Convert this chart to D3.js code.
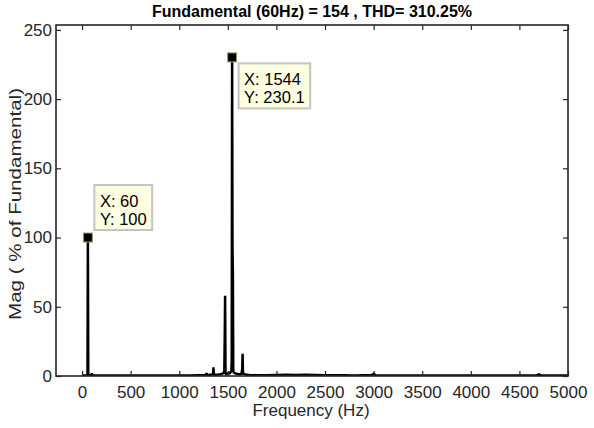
<!DOCTYPE html>
<html><head><meta charset="utf-8">
<script src="https://cdn.jsdelivr.net/npm/d3@7"></script>
<style>
body{margin:0;background:#fff}
svg text{font-family:Arial,"Liberation Sans",Helvetica,sans-serif}
</style>
</head><body>
<svg id="chart" width="594" height="428"></svg>
<script>
// ---- data ----
const titleText = "Fundamental (60Hz) = 154 , THD= 310.25%";
const xLabelText = "Frequency (Hz)";
const yLabelText = "Mag ( % of Fundamental)";
const xTickValues = [0, 500, 1000, 1500, 2000, 2500, 3000, 3500, 4000, 4500, 5000];
const yTickValues = [0, 50, 100, 150, 200, 250];
const xLimits = [-268, 5000];
const yLimits = [0, 253.5];

// spectrum (Hz, % of fundamental)
const freqHz = [0, 20, 40, 56, 60, 64, 80, 96, 100, 104, 120, 200, 300, 400, 500, 600, 700, 800, 900, 1000,
  1100, 1200, 1240, 1276, 1280, 1284, 1288, 1320, 1344, 1348, 1352, 1356, 1380, 1420, 1440, 1460, 1464, 1468, 1472, 1476,
  1480, 1500, 1520, 1536, 1540, 1544, 1548, 1552, 1556, 1560, 1580, 1600, 1620, 1640, 1648, 1652, 1656, 1680, 1720, 1800,
  1900, 2000, 2100, 2200, 2300, 2400, 2500, 2600, 2700, 2800, 2900, 2980, 3000, 3020, 3100, 3200, 3400, 3600, 3800, 4000,
  4200, 4400, 4600, 4680, 4700, 4720, 4800, 5000];
const magPct = [0.8, 0.4, 0.3, 0.6, 100, 0.6, 0.5, 0.6, 2.0, 0.5, 0.4, 0.3, 0.3, 0.3, 0.4, 0.3, 0.3, 0.4, 0.3, 0.4,
  0.4, 0.5, 0.6, 0.8, 2.2, 0.8, 0.6, 0.9, 1.0, 2.0, 6.3, 1.2, 0.8, 1.2, 1.5, 2.5, 4.0, 27, 58, 3.0,
  1.5, 1.8, 2.0, 3.5, 10, 230.1, 93, 73, 4.5, 2.5, 1.8, 1.5, 1.2, 1.5, 5.0, 16, 2.0, 1.0, 0.7, 0.6,
  0.5, 0.7, 0.9, 0.8, 0.9, 0.7, 0.6, 0.5, 0.5, 0.4, 0.5, 0.6, 1.6, 0.6, 0.4, 0.4, 0.3, 0.3, 0.3, 0.3,
  0.3, 0.3, 0.3, 0.4, 1.2, 0.4, 0.3, 0.3];

const dataTips = [{f: 60, m: 100, place: "above"}, {f: 1544, m: 230.1, place: "below"}];

// ---- layout ----
const W = 594, H = 428;
const plot = {left: 56, right: 568, top: 25, bottom: 376};
const axisColor = "#262626";
const svg = d3.select("#chart");
svg.append("rect").attr("width", W).attr("height", H).attr("fill", "#fff");

const x = d3.scaleLinear().domain(xLimits).range([plot.left, plot.right]);
const y = d3.scaleLinear().domain(yLimits).range([plot.bottom, plot.top]);

svg.append("rect").attr("x", plot.left).attr("y", plot.top)
  .attr("width", plot.right - plot.left).attr("height", plot.bottom - plot.top).attr("fill", "#fff");

// spectrum line
const pts = freqHz.map((f, i) => [f, magPct[i]]);
svg.append("clipPath").attr("id", "clipP").append("rect")
  .attr("x", plot.left).attr("y", plot.top).attr("width", plot.right - plot.left).attr("height", plot.bottom - plot.top);
svg.append("path").datum(pts)
  .attr("clip-path", "url(#clipP)")
  .attr("fill", "none").attr("stroke", "#000").attr("stroke-width", 2.5).attr("stroke-linejoin", "miter")
  .attr("d", d3.line().x(d => x(d[0])).y(d => y(d[1])));

// axes with inner ticks
const tickLen = 5;
const fontTick = 17;
const gB = svg.append("g").attr("transform", `translate(0,${plot.bottom})`)
  .call(d3.axisBottom(x).tickValues(xTickValues).tickSize(-tickLen).tickPadding(10).tickFormat(d3.format("d")));
const gT = svg.append("g").attr("transform", `translate(0,${plot.top})`)
  .call(d3.axisTop(x).tickValues(xTickValues).tickSize(-tickLen).tickFormat(""));
const gL = svg.append("g").attr("transform", `translate(${plot.left},0)`)
  .call(d3.axisLeft(y).tickValues(yTickValues).tickSize(-tickLen).tickPadding(4).tickFormat(d3.format("d")));
const gR = svg.append("g").attr("transform", `translate(${plot.right},0)`)
  .call(d3.axisRight(y).tickValues(yTickValues).tickSize(-tickLen).tickFormat(""));
[gB, gT, gL, gR].forEach(g => {
  g.select(".domain").remove();
  g.selectAll(".tick line").attr("stroke", axisColor).attr("stroke-width", 1.2);
  g.selectAll(".tick text").attr("fill", axisColor).attr("font-size", fontTick)
    .attr("font-family", "Arial, 'Liberation Sans', sans-serif");
});
gB.selectAll(".tick text").attr("dy", "0.71em");
svg.append("rect").attr("x", plot.left).attr("y", plot.top)
  .attr("width", plot.right - plot.left).attr("height", plot.bottom - plot.top)
  .attr("fill", "none").attr("stroke", axisColor).attr("stroke-width", 1.6);

// labels
svg.append("text").attr("x", (plot.left + plot.right) / 2).attr("y", 17)
  .attr("text-anchor", "middle").attr("font-weight", "bold").attr("font-size", 16)
  .attr("fill", "#000").text(titleText);
svg.append("text").attr("x", (plot.left + plot.right) / 2 - 1).attr("y", 416)
  .attr("text-anchor", "middle").attr("font-size", 17).attr("fill", axisColor).text(xLabelText);
svg.append("text").attr("transform", `translate(21,204) rotate(-90)`)
  .attr("text-anchor", "middle").attr("font-size", 17)
  .attr("textLength", 232).attr("lengthAdjust", "spacingAndGlyphs")
  .attr("fill", axisColor).text(yLabelText);

// data tips
const tipFont = 16.5, lineGap = 17.5, padX = 5.5;
dataTips.forEach(t => {
  const px = x(t.f), py = y(t.m);
  const g = svg.append("g");
  const lines = ["X: " + t.f, "Y: " + t.m];
  const rect = g.append("rect").attr("fill", "#ffffe1").attr("stroke", "#c4c4c4").attr("stroke-width", 2);
  const texts = lines.map(s => g.append("text").attr("font-size", tipFont).attr("fill", "#000").text(s));
  const tw = d3.max(texts, tx => tx.node().getComputedTextLength());
  const bw = tw + padX * 2, bh = 45;
  const bx = px + 6.5;
  const by = t.place === "above" ? py - 7.5 - bh : py + 6;
  rect.attr("x", bx).attr("y", by).attr("width", bw).attr("height", bh);
  texts.forEach((tx, i) => tx.attr("x", bx + padX).attr("y", by + 22 + i * lineGap));
  svg.append("rect").attr("x", px - 4.5).attr("y", py - 4.5).attr("width", 9).attr("height", 9)
    .attr("fill", "#000").attr("stroke", "#9c9c6a").attr("stroke-width", 1);
});
</script>
</body></html>
